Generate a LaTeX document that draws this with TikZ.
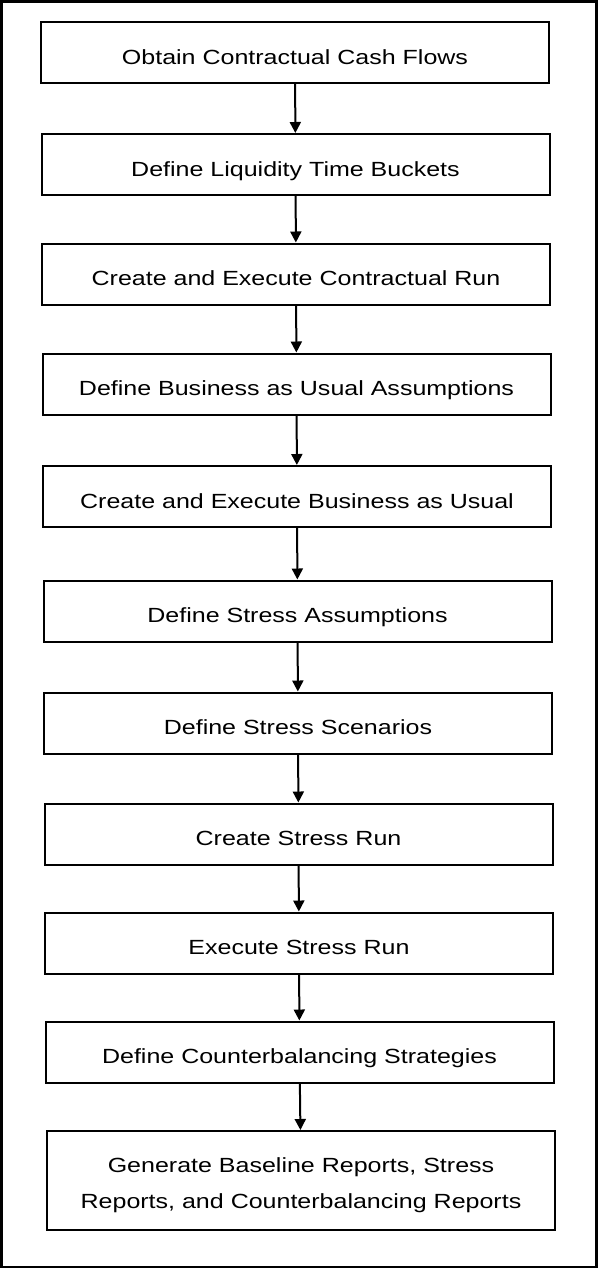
\documentclass[tikz,border=0pt]{standalone}
\usepackage{fontspec}
\setmainfont[FakeStretch=1.22]{Liberation Sans}
\usetikzlibrary{arrows.meta}

\tikzset{
	stepbox/.style={draw, line width=2pt, minimum width=508pt, minimum height=61pt, inner sep=0pt, align=center, text height=23pt, text depth=0pt, font=\fontsize{20.5}{36}\selectfont},
	flow/.style={line width=2pt, -{Triangle[width=11pt,length=11pt]}}
}

\begin{document}
\begin{tikzpicture}[x=1pt,y=-1pt]

		\useasboundingbox (0,0) rectangle (598,1269);
		\draw[line width=2.5pt] (1.5,1.5) rectangle (596.5,1267);

		\node[stepbox] (b1)  at (295.0,  52.5) {Obtain Contractual Cash Flows};
		\node[stepbox] (b2)  at (295.5, 164.5) {Define Liquidity Time Buckets};
		\node[stepbox] (b3)  at (296.0, 274.0) {Create and Execute Contractual Run};
		\node[stepbox] (b4)  at (296.5, 384.0) {Define Business as Usual Assumptions};
		\node[stepbox] (b5)  at (297.0, 496.5) {Create and Execute Business as Usual};
		\node[stepbox] (b6)  at (297.5, 611.0) {Define Stress Assumptions};
		\node[stepbox] (b7)  at (298.0, 723.0) {Define Stress Scenarios};
		\node[stepbox] (b8)  at (298.5, 834.0) {Create Stress Run};
		\node[stepbox] (b9)  at (299.0, 943.0) {Execute Stress Run};
		\node[stepbox] (b10) at (299.5,1052.0) {Define Counterbalancing Strategies};
		\node[stepbox, minimum height=99pt, text height=, text depth=] (b11) at (301.0,1180.5) {\rule{0pt}{25pt}Generate Baseline Reports, Stress\\Reports, and Counterbalancing Reports};

		\draw[flow] (b1) to (b2);
		\draw[flow] (b2) to (b3);
		\draw[flow] (b3) to (b4);
		\draw[flow] (b4) to (b5);
		\draw[flow] (b5) to (b6);
		\draw[flow] (b6) to (b7);
		\draw[flow] (b7) to (b8);
		\draw[flow] (b8) to (b9);
		\draw[flow] (b9) to (b10);
		\draw[flow] (b10) to (b11);

\end{tikzpicture}
\end{document}
